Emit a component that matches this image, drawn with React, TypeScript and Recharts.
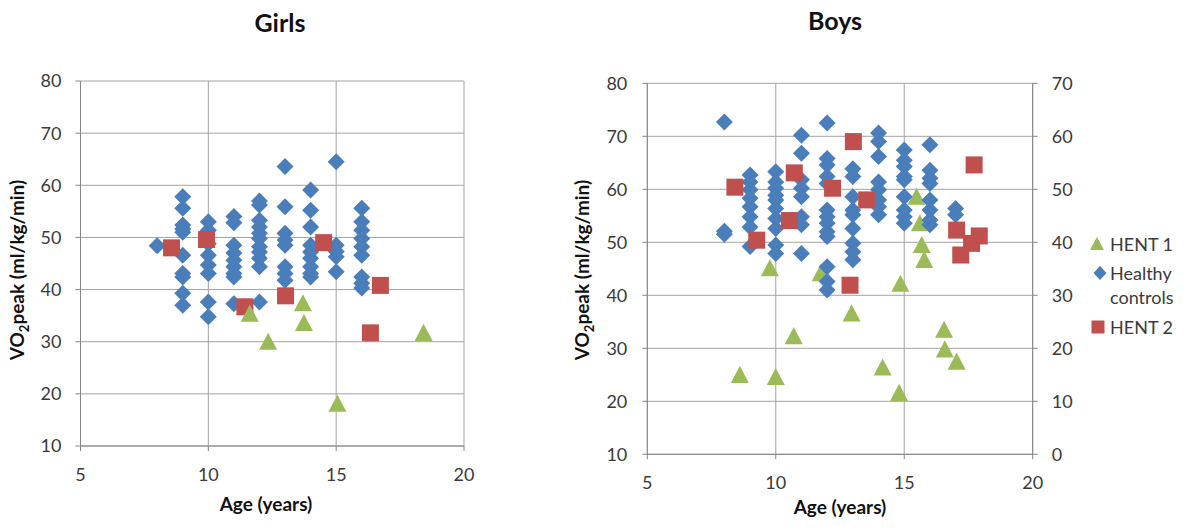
import React from 'react';
import { ScatterChart, Scatter, XAxis, YAxis, CartesianGrid, Legend } from 'recharts';

const FONT = 'Lato, "Open Sans", sans-serif';
const BLUE = '#4A7EBB';
const RED = '#C0504D';
const GREEN = '#9BBB59';
const AXIS = '#868686';
const GRID = '#A3A3A3';
const TEXT = '#3a3a3a';

const ageTicks = [5, 10, 15, 20];
const vo2Ticks = [10, 20, 30, 40, 50, 60, 70, 80];
const rightTicks = [0, 10, 20, 30, 40, 50, 60, 70];

// [age, VO2peak]
const girlsHealthy: [number, number][] = [
  [8, 48.4],
  [9, 57.8], [9, 55.6], [9, 52.4], [9, 51.6], [9, 51], [9, 46.6], [9, 43.1], [9, 42.4], [9, 39.3], [9, 37],
  [10, 53], [10, 51.4], [10, 48.8], [10, 46.6], [10, 44.7], [10, 43.1], [10, 37.6], [10, 34.8],
  [11, 54], [11, 52.8], [11, 48.5], [11, 47], [11, 45.6], [11, 44.4], [11, 43.1], [11, 42.4], [11, 37.3],
  [12, 57], [12, 56.2], [12, 53.3], [12, 52], [12, 50.8], [12, 49.8], [12, 48.2], [12, 47.2], [12, 46], [12, 44.4], [12, 37.6],
  [13, 63.6], [13, 55.9], [13, 50.8], [13, 49.5], [13, 48.5], [13, 44.4], [13, 43.1], [13, 41.8],
  [14, 59.1], [14, 55.2], [14, 52], [14, 48.5], [14, 47.2], [14, 46], [14, 44.4], [14, 43.1], [14, 42.4],
  [15, 64.5], [15, 48.5], [15, 47.3], [15, 46.3], [15, 43.4],
  [16, 55.6], [16, 53], [16, 51.4], [16, 49.8], [16, 48.2], [16, 46.6], [16, 42.4], [16, 41.2], [16, 40.3],
];
const girlsHent1: [number, number][] = [
  [11.62, 35.4], [12.34, 30], [13.7, 37.4], [13.74, 33.6], [15.05, 18.1], [18.42, 31.7],
];
const girlsHent2: [number, number][] = [
  [8.56, 48], [9.93, 49.6], [11.43, 36.7], [13.02, 38.8], [14.51, 49], [16.34, 31.7], [16.73, 40.8],
];

const boysHealthy: [number, number][] = [
  [8, 72.7], [8, 52.1], [8, 51.5],
  [9, 62.7], [9, 61.4], [9, 59.9], [9, 58.3], [9, 56.7], [9, 54.8], [9, 52.9], [9, 49.2],
  [10, 63.3], [10, 61.4], [10, 60.2], [10, 58.9], [10, 58], [10, 56.4], [10, 54.5], [10, 52.6], [10, 49.5], [10, 47.9],
  [11, 70.2], [11, 66.8], [11, 61.8], [11, 60.2], [11, 58.6], [11, 54.8], [11, 53.3], [11, 47.9],
  [12, 72.5], [12, 65.8], [12, 64.6], [12, 62.4], [12, 61.1], [12, 56.1], [12, 54.8], [12, 53.6], [12, 52], [12, 51.1], [12, 45.4], [12, 42.6], [12, 41],
  [13, 63.9], [13, 62.4], [13, 58.6], [13, 56.1], [13, 55.2], [13, 52.6], [13, 49.8], [13, 48.2], [13, 46.7],
  [14, 70.6], [14, 69], [14, 66.2], [14, 61.4], [14, 59.9], [14, 58], [14, 56.7], [14, 55.2],
  [15, 67.4], [15, 65.5], [15, 64.3], [15, 62.4], [15, 61.8], [15, 58.6], [15, 56.1], [15, 54.8], [15, 53.6],
  [16, 68.4], [16, 63.6], [16, 62.1], [16, 61.1], [16, 58], [16, 56.1], [16, 54.2], [16, 53.3],
  [17, 56.4], [17, 55.2],
];
const boysHent1: [number, number][] = [
  [8.6, 25], [9.77, 45.1], [10, 24.6], [10.7, 32.3], [11.75, 44.2], [12.95, 36.6], [14.16, 26.4], [14.8, 21.6],
  [14.85, 42.2], [15.48, 58.6], [15.61, 53.6], [15.68, 49.5], [15.78, 46.7], [16.55, 33.5], [16.58, 29.8], [17.04, 27.5],
];
const boysHent2: [number, number][] = [
  [8.41, 60.4], [9.26, 50.4], [10.53, 54.1], [10.72, 63.1], [12.21, 60.2], [12.89, 41.9], [13.02, 69],
  [13.54, 58], [17.04, 52.3], [17.2, 47.6], [17.62, 49.8], [17.72, 64.6], [17.92, 51.2],
];

const toPoints = (rows: [number, number][]) => rows.map(([x, y]) => ({ x, y }));

const Diamond = ({ cx, cy, r = 8.5 }: any) => (
  <polygon points={`${cx},${cy - r} ${cx + r},${cy} ${cx},${cy + r} ${cx - r},${cy}`} fill={BLUE} />
);
const Square = ({ cx, cy, s = 8.5 }: any) => (
  <rect x={cx - s} y={cy - s} width={s * 2} height={s * 2} fill={RED} />
);
const Triangle = ({ cx, cy, s = 9 }: any) => (
  <polygon points={`${cx},${cy - s} ${cx + s},${cy + s * 0.9} ${cx - s},${cy + s * 0.9}`} fill={GREEN} />
);

const Vo2Label = ({ x, y }: any) => (
  <text x={x} y={y} transform={`rotate(-90, ${x}, ${y})`} textAnchor="middle"
    fontFamily={FONT} fontWeight="bold" fontSize={19} fill="#111">
    VO<tspan fontSize={13} dy={5}>2</tspan><tspan dy={-5}>peak (ml/kg/min)</tspan>
  </text>
);

const AgeLabel = ({ x, y }: any) => (
  <text x={x} y={y} textAnchor="middle" fontFamily={FONT} fontWeight="bold" fontSize={19} fill="#111">
    Age (years)
  </text>
);

const tickStyle = { fill: TEXT, fontSize: 18, fontFamily: FONT };

const LegendBox = () => (
  <div style={{ position: 'relative', width: 110, height: 112, fontFamily: FONT, fontSize: 18, color: TEXT }}>
    <svg width={20} height={112} style={{ position: 'absolute', left: 0, top: 0 }}>
      <polygon points="9,7 16,20 2,20" fill={GREEN} />
      <polygon points="12,36 18.5,43 12,50 5.5,43" fill={BLUE} />
      <rect x={3.5} y={90.5} width={13} height={13} fill={RED} />
    </svg>
    <div style={{ position: 'absolute', left: 22, top: 2, lineHeight: '24px' }}>HENT 1</div>
    <div style={{ position: 'absolute', left: 22, top: 31, lineHeight: '24px' }}>Healthy<br />controls</div>
    <div style={{ position: 'absolute', left: 22, top: 85, lineHeight: '24px' }}>HENT 2</div>
  </div>
);

const GirlsChart = () => (
  <ScatterChart width={480} height={529} margin={{ top: 81, right: 16, bottom: 23, left: 0 }}>
    <CartesianGrid stroke={GRID} strokeWidth={1} />
    <XAxis type="number" dataKey="x" domain={[5, 20]} ticks={ageTicks} interval={0} height={60}
      stroke={AXIS} tickSize={5} tickMargin={17} tick={tickStyle}
      label={{ content: () => <AgeLabel x={266} y={511} /> }} />
    <YAxis type="number" dataKey="y" domain={[10, 80]} ticks={vo2Ticks} interval={0} width={80.5}
      stroke={AXIS} tickSize={5} tickMargin={14} tick={tickStyle}
      label={{ content: () => <Vo2Label x={24} y={270} /> }} />
    <Scatter name="Healthy controls" data={toPoints(girlsHealthy)} shape={(p: any) => <Diamond cx={p.cx} cy={p.cy} />} isAnimationActive={false} />
    <Scatter name="HENT 2" data={toPoints(girlsHent2)} shape={(p: any) => <Square cx={p.cx} cy={p.cy} />} isAnimationActive={false} />
    <Scatter name="HENT 1" data={toPoints(girlsHent1)} shape={(p: any) => <Triangle cx={p.cx} cy={p.cy} />} isAnimationActive={false} />
  </ScatterChart>
);

const BoysChart = () => (
  <ScatterChart width={632} height={529} margin={{ top: 83.3, right: 119.3, bottom: 19.7, left: 0 }}>
    <CartesianGrid stroke={GRID} strokeWidth={1} yAxisId="left" />
    <XAxis type="number" dataKey="x" domain={[5, 20]} ticks={ageTicks} interval={0} height={55}
      stroke={AXIS} tickSize={5} tickMargin={17} tick={tickStyle}
      label={{ content: () => <AgeLabel x={280} y={514} /> }} />
    <YAxis yAxisId="left" type="number" dataKey="y" domain={[10, 80]} ticks={vo2Ticks} interval={0} width={87.3}
      stroke={AXIS} tickSize={5} tickMargin={15} tick={tickStyle}
      label={{ content: () => <Vo2Label x={29} y={270} /> }} />
    <YAxis yAxisId="right" orientation="right" type="number" dataKey="y" domain={[0, 70]} allowDataOverflow
      ticks={rightTicks} interval={0} width={40}
      stroke={AXIS} tickSize={5} tickMargin={14} tick={tickStyle} />
    <Legend layout="vertical" align="center" verticalAlign="middle" content={() => <LegendBox />}
      wrapperStyle={{ left: 528, top: 230, width: 110 }} />
    <Scatter yAxisId="left" name="HENT 1" data={toPoints(boysHent1)} shape={(p: any) => <Triangle cx={p.cx} cy={p.cy} />} isAnimationActive={false} />
    <Scatter yAxisId="left" name="Healthy controls" data={toPoints(boysHealthy)} shape={(p: any) => <Diamond cx={p.cx} cy={p.cy} />} isAnimationActive={false} />
    <Scatter yAxisId="left" name="HENT 2" data={toPoints(boysHent2)} shape={(p: any) => <Square cx={p.cx} cy={p.cy} />} isAnimationActive={false} />
  </ScatterChart>
);

export default function App() {
  return (
    <div style={{ position: 'absolute', left: 0, top: 0, width: 1192, height: 529, background: '#fff' }}>
      <div style={{ position: 'absolute', left: 0, top: 0 }}>
        <GirlsChart />
      </div>
      <div style={{ position: 'absolute', left: 560, top: 0 }}>
        <BoysChart />
      </div>
      <svg width={1192} height={529} style={{ position: 'absolute', left: 0, top: 0, pointerEvents: 'none' }}>
        <text x={280} y={32} textAnchor="middle" fontFamily={FONT} fontWeight="bold" fontSize={25} fill="#111">Girls</text>
        <text x={835} y={30} textAnchor="middle" fontFamily={FONT} fontWeight="bold" fontSize={25} fill="#111">Boys</text>
      </svg>
    </div>
  );
}
